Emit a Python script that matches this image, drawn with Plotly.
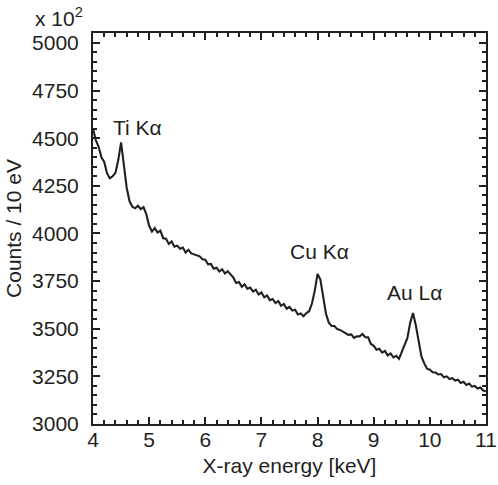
import numpy as np
import plotly.graph_objects as go

# counts per 10 eV bin, read every 0.05 keV from 4.00 to 11.00 keV
counts = [
    4550, 4490, 4455, 4400, 4375, 4315, 4290, 4300, 4318, 4385,
    4478, 4345, 4240, 4170, 4140, 4132, 4145, 4128, 4138, 4100,
    4040, 4010, 4028, 4005, 4015, 3975, 3972, 3945, 3958, 3930,
    3936, 3920, 3926, 3900, 3914, 3895, 3890, 3882, 3880, 3865,
    3862, 3838, 3840, 3815, 3820, 3800, 3812, 3790, 3802, 3785,
    3768, 3740, 3745, 3720, 3733, 3710, 3716, 3695, 3705, 3680,
    3690, 3665, 3675, 3650, 3656, 3635, 3645, 3620, 3630, 3605,
    3614, 3595, 3600, 3575, 3580, 3566, 3582, 3592, 3632, 3700,
    3788, 3758, 3665, 3578, 3532, 3515, 3514, 3498, 3494, 3485,
    3480, 3468, 3470, 3452, 3460, 3460, 3472, 3455, 3455, 3420,
    3410, 3390, 3395, 3375, 3384, 3360, 3370, 3350, 3358, 3342,
    3378, 3418, 3452, 3532, 3582, 3518, 3438, 3355, 3318, 3290,
    3285, 3272, 3270, 3260, 3262, 3245, 3250, 3236, 3240, 3228,
    3232, 3215, 3222, 3205, 3212, 3196, 3200, 3186, 3192, 3176,
    3172,
]
energy = np.round(np.linspace(4.0, 11.0, len(counts)), 3)

peak_labels = ["Ti K\u03b1", "Cu K\u03b1", "Au L\u03b1"]
peak_x = [4.80, 8.04, 9.72]
peak_y = [4555, 3905, 3690]

font = dict(family="Liberation Sans, Arial, sans-serif", size=21, color="#231f20")

fig = go.Figure(go.Scatter(
    x=energy, y=counts, mode="lines",
    line=dict(color="#231f20", width=2.1), showlegend=False))

for t, x, y in zip(peak_labels, peak_x, peak_y):
    fig.add_annotation(x=x, y=y, text=t, showarrow=False, font=font)

fig.add_annotation(xref="paper", yref="paper", x=-0.152, y=1.003, yanchor="bottom",
                   xanchor="left", text="x 10<sup>2</sup>", showarrow=False, font=font)

axis = dict(showline=True, linewidth=2, linecolor="#231f20", mirror="allticks",
            ticks="inside", ticklen=7, tickwidth=1.5, tickcolor="#231f20",
            showgrid=False, zeroline=False, tickfont=font, automargin=False)

fig.update_xaxes(range=[4, 11], dtick=1, tick0=4,
                 minor=dict(dtick=0.2, ticks="inside", ticklen=4, tickcolor="#231f20"),
                 title=dict(text="X-ray energy [keV]", font=font, standoff=8),
                 ticklabelstandoff=-4, **axis)
fig.update_yaxes(range=[3000, 5052], dtick=250, tick0=3000,
                 minor=dict(dtick=50, ticks="inside", ticklen=4, tickcolor="#231f20"),
                 title=dict(text="Counts / 10 eV", font=font, standoff=5),
                 ticklabelstandoff=8, **axis)

fig.update_layout(width=498, height=485, plot_bgcolor="white", paper_bgcolor="white",
                  margin=dict(l=93, r=12, t=33, b=61))

# drop the page's default body margin so the figure sits at the window corner
fig.write_html("out.html", config={"displayModeBar": False},
               post_script="document.body.style.margin='0';")
